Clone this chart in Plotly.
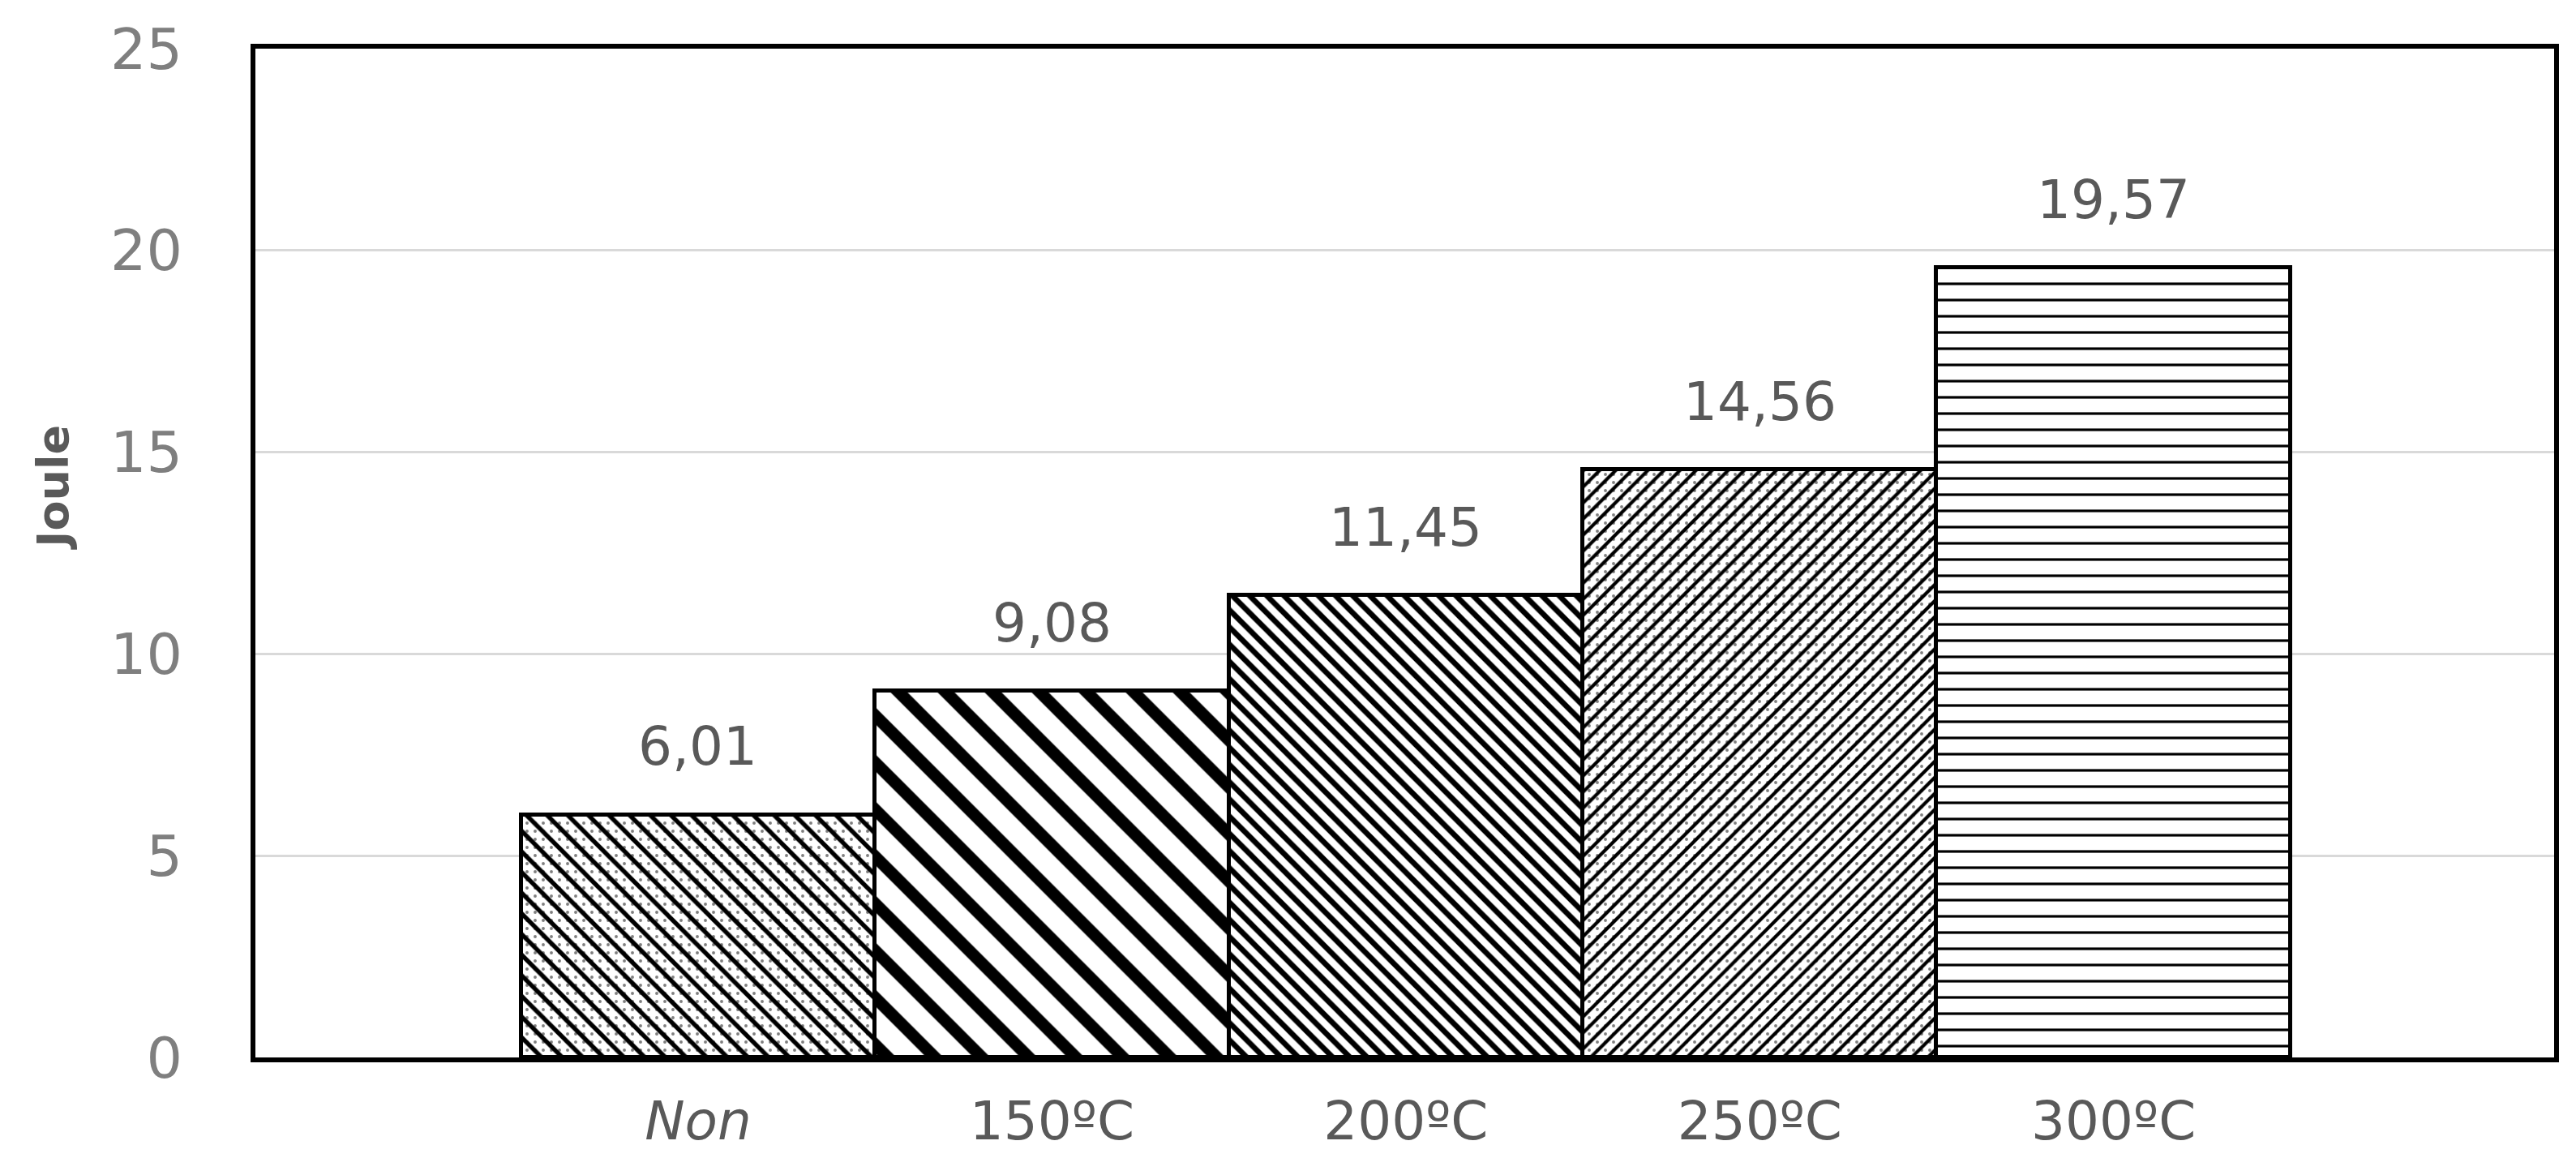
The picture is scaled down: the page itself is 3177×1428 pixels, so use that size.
import plotly.graph_objects as go

categories = ["<i>Non</i>", "150ºC", "200ºC", "250ºC", "300ºC"]
values = [6.01, 9.08, 11.45, 14.56, 19.57]
y_ticks = [0, 5, 10, 15, 20, 25]

# pattern styling per bar (primary layer + optional dot layer)
main_shapes = ["\\", "\\", "\\", "/", "-"]
main_sizes = [18, 41, 15, 14, 20]
main_solidity = [0.3, 0.36, 0.45, 0.3, 0.16]
dot_shapes = [".", "", "", ".", ""]

W, H = 3177, 1428
L, R, T, B = 307, 35, 52, 132

fig = go.Figure()
fig.add_trace(go.Bar(
    x=categories, y=values,
    marker=dict(
        color="white",
        line=dict(color="black", width=5),
        pattern=dict(shape=main_shapes, size=main_sizes, solidity=main_solidity,
                     fgcolor="black", bgcolor="white", fillmode="replace"),
    ),
    width=1.0, hoverinfo="skip", showlegend=False,
))
fig.add_trace(go.Bar(
    x=categories, y=values,
    marker=dict(
        color="rgba(0,0,0,0)",
        line=dict(color="black", width=5),
        pattern=dict(shape=dot_shapes, size=10, solidity=0.12,
                     fgcolor="black", bgcolor="rgba(0,0,0,0)", fillmode="overlay"),
    ),
    width=1.0, hoverinfo="skip", showlegend=False,
))

font_fam = "DejaVu Sans"
gray = "#595959"

for c, v in zip(categories, values):
    fig.add_annotation(
        x=c, y=v, xref="x", yref="y",
        text=f"{v:.2f}".replace(".", ","),
        showarrow=False, yanchor="middle", yshift=84,
        font=dict(family=font_fam, size=66, color=gray),
    )

fig.add_annotation(
    xref="paper", yref="paper", x=-0.088, y=0.565,
    text="<b>Joule</b>", textangle=-90, showarrow=False,
    xanchor="center", yanchor="middle",
    font=dict(family=font_fam, size=54, color=gray),
)

fig.update_layout(
    width=W, height=H,
    margin=dict(l=L, r=R, t=T, b=B, autoexpand=False),
    paper_bgcolor="white", plot_bgcolor="white",
    barmode="overlay", bargap=0,
    font=dict(family=font_fam, color=gray),
)
fig.update_xaxes(
    type="category", range=[-1.251, 5.245], automargin=False,
    showline=True, linecolor="black", linewidth=6, mirror=True,
    showgrid=False, ticks="", ticklabelstandoff=16,
    tickfont=dict(family=font_fam, size=66, color=gray),
)
fig.update_yaxes(
    range=[0, 25], tickvals=y_ticks, ticktext=[str(t) for t in y_ticks],
    automargin=False,
    showline=True, linecolor="black", linewidth=6, mirror=True,
    showgrid=True, gridcolor="#d9d9d9", gridwidth=3,
    zeroline=False, ticks="", ticklabelstandoff=70,
    tickfont=dict(family=font_fam, size=70, color="#7f7f7f"),
)

fig.write_html("out.html")
